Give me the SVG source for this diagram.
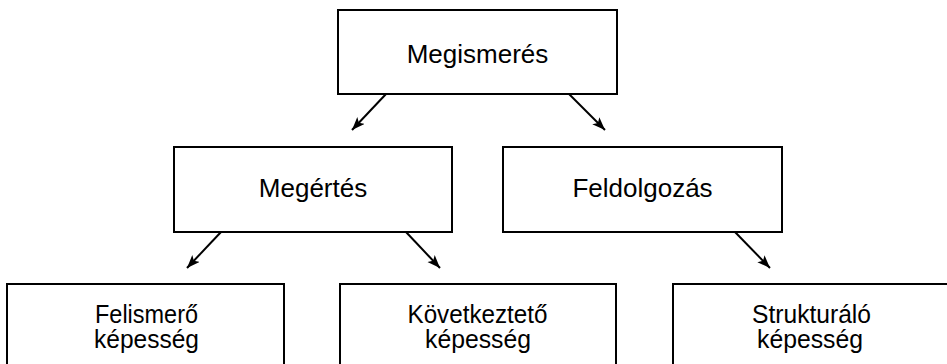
<svg xmlns="http://www.w3.org/2000/svg" width="947" height="364" viewBox="0 0 947 364">
<style>
.box{fill:#fff;stroke:#000;stroke-width:2}
.t{font-family:"Liberation Sans",Arial,sans-serif;font-size:26px;fill:#000;text-anchor:middle}
.b{font-family:"Liberation Sans",Arial,sans-serif;font-size:26px;fill:#000;text-anchor:middle}
.c{stroke:#000;stroke-width:2;fill:none}
</style>
<defs>
<marker id="ah" markerUnits="userSpaceOnUse" markerWidth="14" markerHeight="12" refX="13" refY="5" orient="auto">
<path d="M0,0 L13,5 L0,10 L3,5 Z" fill="#000"/>
</marker>
</defs>
<rect width="947" height="364" fill="#fff"/>
<g id="connectors">
<line class="c" x1="386" y1="94" x2="352" y2="130" marker-end="url(#ah)"/>
<line class="c" x1="569" y1="94" x2="605" y2="130" marker-end="url(#ah)"/>
<line class="c" x1="221" y1="232" x2="187" y2="268" marker-end="url(#ah)"/>
<line class="c" x1="406" y1="232" x2="440" y2="268" marker-end="url(#ah)"/>
<line class="c" x1="735" y1="232" x2="770" y2="268" marker-end="url(#ah)"/>
</g>
<g id="megismeres">
<rect class="box" x="338" y="10" width="279" height="84"/>
<text class="t" x="477.5" y="63">Megismerés</text>
</g>
<g id="megertes">
<rect class="box" x="174" y="147" width="278" height="85"/>
<text class="t" x="313" y="197">Megértés</text>
</g>
<g id="feldolgozas">
<rect class="box" x="503" y="147" width="279" height="85"/>
<text class="t" x="642.5" y="197">Feldolgozás</text>
</g>
<g id="felismero">
<rect class="box" x="7" y="284" width="277" height="90"/>
<text class="b" x="146.5" y="323" textLength="103" lengthAdjust="spacingAndGlyphs">Felismerő</text>
<text class="b" x="146.5" y="348" textLength="105" lengthAdjust="spacingAndGlyphs">képesség</text>
</g>
<g id="kovetkezteto">
<rect class="box" x="340" y="284" width="276" height="90"/>
<text class="b" x="477.5" y="323" textLength="140" lengthAdjust="spacingAndGlyphs">Következtető</text>
<text class="b" x="478" y="348" textLength="106" lengthAdjust="spacingAndGlyphs">képesség</text>
</g>
<g id="strukturalo">
<rect class="box" x="673" y="284" width="280" height="90"/>
<text class="b" x="811.5" y="323" textLength="119" lengthAdjust="spacingAndGlyphs">Strukturáló</text>
<text class="b" x="810" y="348" textLength="106" lengthAdjust="spacingAndGlyphs">képesség</text>
</g>
</svg>
